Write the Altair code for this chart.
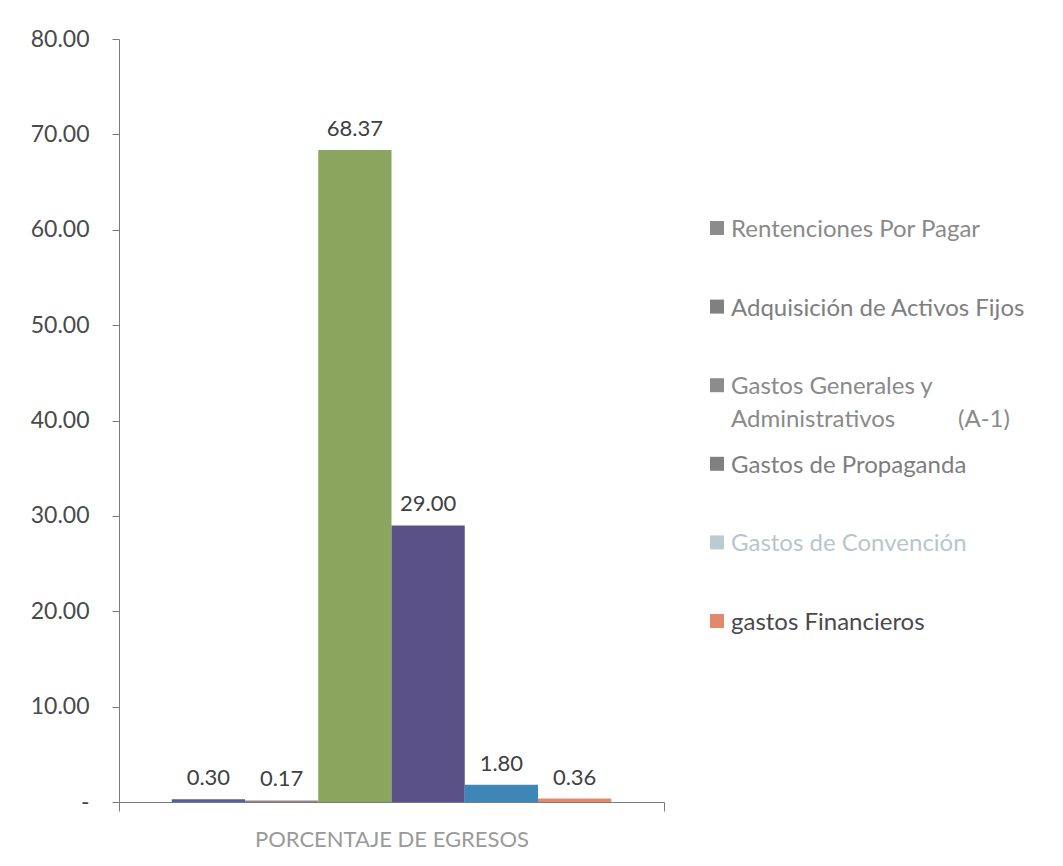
import altair as alt
import pandas as pd

# ---- data ----
series = [
    "Rentenciones Por Pagar",
    "Adquisición de Activos Fijos",
    "Gastos Generales y Administrativos",
    "Gastos de Propaganda",
    "Gastos de Convención",
    "gastos Financieros",
]
values = [0.30, 0.17, 68.37, 29.00, 1.80, 0.36]
legend_labels = [
    "Rentenciones Por Pagar",
    "Adquisición de Activos Fijos",
    "Gastos Generales y\nAdministrativos",
    "Gastos de Propaganda",
    "Gastos de Convención",
    "gastos Financieros",
]
category = "PORCENTAJE DE EGRESOS"
y_ticks = [0, 10, 20, 30, 40, 50, 60, 70, 80]
note = "(A-1)"

bar_colors = ["#4d5f9c", "#9a8484", "#8aa65e", "#5b5189", "#3f86b8", "#e0896c"]
legend_symbol_colors = ["#8c8c8c", "#808080", "#8c8c8c", "#808080", "#bccbd0", "#e0896c"]
legend_text_colors = ["#8a8a8a", "#7e7e7e", "#8a8a8a", "#7e7e7e", "#b8c6cc", "#4a4a4a"]

df = pd.DataFrame({
    "serie": series,
    "valor": values,
    "etiqueta": legend_labels,
    "categoria": [category] * len(series),
})
note_df = pd.DataFrame({"serie": [series[2]], "nota": [note]})

font = "Lato"
axis_col = "#7a7a7a"

x = alt.X(
    "categoria:N", title=None,
    scale=alt.Scale(paddingInner=0, paddingOuter=0),
    axis=alt.Axis(tickBand="extent", labelFontSize=22, labelColor="#9a9a9a",
                  labelPadding=18, tickSize=9, domainColor=axis_col, labelLimit=0,
                  tickColor=axis_col, labelAngle=0, labelFont=font),
)
xo = alt.XOffset("serie:N", sort=series,
                 scale=alt.Scale(paddingInner=0, paddingOuter=0.72))
y = alt.Y(
    "valor:Q", title=None,
    scale=alt.Scale(domain=[0, 80], nice=False),
    axis=alt.Axis(values=y_ticks,
                  labelExpr="datum.value == 0 ? '-' : format(datum.value, '.2f')",
                  grid=False, tickSize=7, labelPadding=23, labelFontSize=23,
                  labelColor="#4a4a4a", domainColor=axis_col, tickColor=axis_col,
                  labelFont=font),
)
color = alt.Color("serie:N", scale=alt.Scale(domain=series, range=bar_colors), legend=None)

bars = alt.Chart(df).mark_bar().encode(x=x, xOffset=xo, y=y, color=color)
labels = alt.Chart(df).mark_text(
    baseline="alphabetic", dy=-14, fontSize=22, font=font, color="#404040"
).encode(x=x, xOffset=xo, y=y, text=alt.Text("valor:Q", format=".2f"))
plot = (bars + labels).properties(width=545, height=763)

leg_scale = alt.Scale(type="point", domain=series, range=[189, 582], padding=0)
ly = alt.Y("serie:N", sort=series, axis=None, title=None, scale=leg_scale)
squares = alt.Chart(df).mark_square(size=196, opacity=1, filled=True).encode(
    x=alt.value(7), y=ly,
    fill=alt.Fill("serie:N", scale=alt.Scale(domain=series, range=legend_symbol_colors), legend=None),
)
texts = alt.Chart(df).mark_text(
    align="left", baseline="top", dy=-10, fontSize=24, font=font,
    lineBreak="\n", lineHeight=33,
).encode(
    x=alt.value(21), y=ly, text="etiqueta:N",
    color=alt.Color("serie:N", scale=alt.Scale(domain=series, range=legend_text_colors), legend=None),
)
note_text = alt.Chart(note_df).mark_text(
    align="left", baseline="top", dy=23, fontSize=24, font=font, color="#8a8a8a"
).encode(x=alt.value(248), y=ly, text="nota:N")
legend_panel = (squares + texts + note_text).properties(width=330, height=763)

chart = alt.hconcat(plot, legend_panel, spacing=45).resolve_scale(
    color="independent", fill="independent"
).properties(
    padding={"left": 22, "top": 20, "right": 5, "bottom": 5},
    background="white",
).configure_view(stroke=None)

chart.save("out.html", embed_options={"renderer": "svg", "actions": False})
